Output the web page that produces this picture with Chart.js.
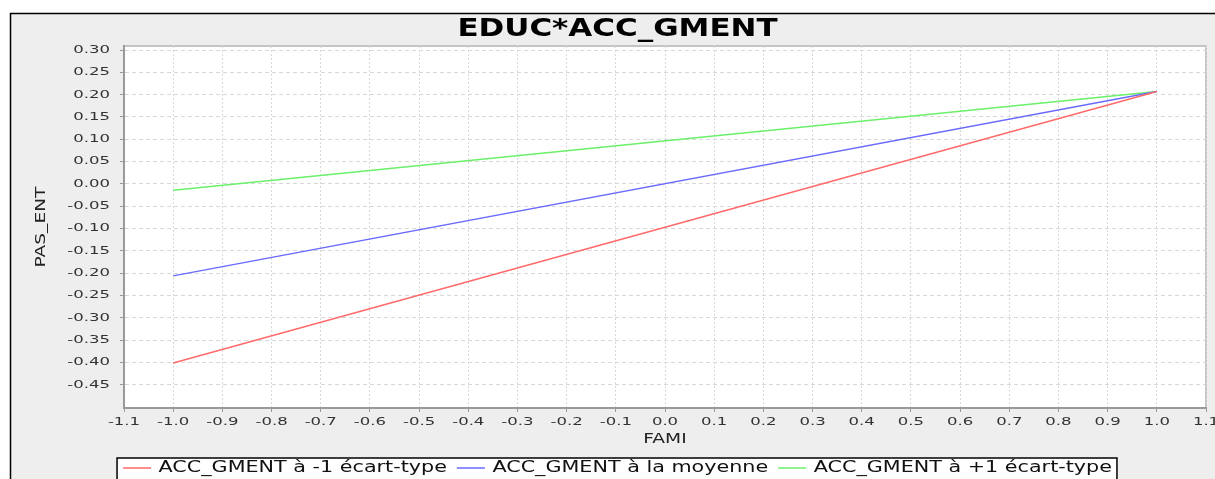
<!DOCTYPE html>
<html>
<head>
<meta charset="utf-8">
<script src="https://cdn.jsdelivr.net/npm/chart.js@4"></script>
<style>
  html, body { margin: 0; padding: 0; background: #fff; }
  #wrap { width: 1215px; height: 479px; }
</style>
</head>
<body>
<div id="wrap"><canvas id="chart" width="1215" height="479"></canvas></div>
<script>
// valeurs
const fami = [-1.0, 1.0];
const accMoins = [-0.401, 0.207];
const accMoyenne = [-0.206, 0.207];
const accPlus = [-0.014, 0.207];
const seriesLabels = ['ACC_GMENT à -1 écart-type', 'ACC_GMENT à la moyenne', 'ACC_GMENT à +1 écart-type'];
const xTicks = [-1.1, -1.0, -0.9, -0.8, -0.7, -0.6, -0.5, -0.4, -0.3, -0.2, -0.1, 0.0,
                0.1, 0.2, 0.3, 0.4, 0.5, 0.6, 0.7, 0.8, 0.9, 1.0, 1.1];
const yTicks = [-0.45, -0.40, -0.35, -0.30, -0.25, -0.20, -0.15, -0.10, -0.05, 0.00,
                0.05, 0.10, 0.15, 0.20, 0.25, 0.30];

const canvas = document.getElementById('chart');
const ctx = canvas.getContext('2d');

// le texte d'origine est étiré horizontalement : facteur selon la taille de police
const stretch = { 24: 1.29, 15: 1.38, 14: 1.33, 11: 1.5 };
function stretchFor(font) {
    const m = /(\d+(?:\.\d+)?)px/.exec(font);
    return (m && stretch[Math.round(+m[1])]) || 1;
}
const origFill = ctx.fillText.bind(ctx);
const origMeasure = ctx.measureText.bind(ctx);
ctx.fillText = function (t, x, y) {
    const sx = stretchFor(ctx.font);
    ctx.save();
    ctx.translate(x, y);
    ctx.scale(sx, 1);
    origFill(t, 0, 0);
    ctx.restore();
};
ctx.measureText = function (t) {
    const r = origMeasure(t);
    const sx = stretchFor(ctx.font);
    return {
        width: r.width * sx,
        actualBoundingBoxAscent: r.actualBoundingBoxAscent,
        actualBoundingBoxDescent: r.actualBoundingBoxDescent,
        actualBoundingBoxLeft: r.actualBoundingBoxLeft * sx,
        actualBoundingBoxRight: r.actualBoundingBoxRight * sx
    };
};

Chart.defaults.font.family = 'DejaVu Sans';

const toPoints = ys => fami.map((x, i) => ({ x: x, y: ys[i] }));

// fond, cadre et boîte de légende
const framePlugin = {
    id: 'frame',
    beforeDraw(chart) {
        const c = chart.ctx;
        const a = chart.chartArea;
        c.save();
        c.fillStyle = '#ffffff';
        c.fillRect(0, 0, chart.width, chart.height);
        c.fillStyle = '#eeeeee';
        c.fillRect(10, 13, chart.width, chart.height);
        c.strokeStyle = '#000';
        c.lineWidth = 1.5;
        c.strokeRect(10.5, 13.5, chart.width + 10, chart.height + 10);
        c.fillStyle = '#fff';
        c.fillRect(a.left, a.top, a.right - a.left, a.bottom - a.top);
        c.strokeStyle = '#c4c4c4';
        c.lineWidth = 2;
        c.strokeRect(a.left, a.top, a.right - a.left, a.bottom - a.top);
        const boxes = chart.legend.legendHitBoxes;
        if (boxes.length) {
            const l = Math.min(...boxes.map(b => b.left)) - 6;
            const r = Math.max(...boxes.map(b => b.left + b.width)) + 5;
            const t = boxes[0].top + boxes[0].height / 2 - 10;
            c.fillStyle = '#fff';
            c.fillRect(l, t, r - l, 40);
            c.strokeStyle = '#000';
            c.lineWidth = 1.5;
            c.strokeRect(l, t, r - l, 40);
        }
        c.restore();
    }
};

new Chart(ctx, {
    type: 'line',
    data: {
        datasets: [{
            label: seriesLabels[0],
            data: toPoints(accMoins),
            borderColor: '#ff6a6a',
            borderWidth: 1.5,
            pointRadius: 0
        }, {
            label: seriesLabels[1],
            data: toPoints(accMoyenne),
            borderColor: '#6a6aff',
            borderWidth: 1.5,
            pointRadius: 0
        }, {
            label: seriesLabels[2],
            data: toPoints(accPlus),
            borderColor: '#6af06a',
            borderWidth: 1.5,
            pointRadius: 0
        }]
    },
    options: {
        responsive: false,
        animation: false,
        devicePixelRatio: 1,
        layout: { padding: { top: 0, left: 20, right: 0, bottom: -6.5 } },
        plugins: {
            title: {
                display: true,
                text: 'EDUC*ACC_GMENT',
                color: '#000',
                font: { size: 24, weight: 'bold', lineHeight: 1.2 },
                padding: { top: 15.6, bottom: 1.6 }
            },
            legend: {
                position: 'bottom',
                align: 'center',
                labels: {
                    usePointStyle: true,
                    pointStyle: 'line',
                    pointStyleWidth: 28,
                    color: '#111',
                    font: { size: 15 },
                    padding: 10
                }
            },
            tooltip: { enabled: false }
        },
        scales: {
            x: {
                type: 'linear',
                min: -1.1,
                max: 1.1,
                afterBuildTicks: s => { s.ticks = xTicks.map(v => ({ value: v })); },
                afterFit: s => { s.height = 42.5; s.paddingLeft = 0; s.paddingRight = 9; },
                ticks: {
                    callback: v => v.toFixed(1),
                    autoSkip: false,
                    maxRotation: 0,
                    color: '#333',
                    font: { size: 11 },
                    padding: 4
                },
                grid: { color: '#d8d8d8', tickLength: 4, tickColor: '#999', tickBorderDash: [] },
                border: { display: true, color: '#999', width: 2, dash: [2, 2] },
                title: {
                    display: true,
                    text: 'FAMI',
                    color: '#222',
                    font: { size: 14 },
                    padding: { top: 0, bottom: 3.1 }
                }
            },
            y: {
                min: -0.502,
                max: 0.309,
                afterBuildTicks: s => { s.ticks = yTicks.map(v => ({ value: v })); },
                afterFit: s => { s.width = 104; },
                ticks: {
                    callback: v => v.toFixed(2),
                    autoSkip: false,
                    color: '#333',
                    font: { size: 11 },
                    padding: 10
                },
                grid: { color: '#d8d8d8', tickLength: 4, tickColor: '#999', tickBorderDash: [] },
                border: { display: true, color: '#999', width: 2, dash: [4, 3] },
                title: {
                    display: true,
                    text: 'PAS_ENT',
                    color: '#222',
                    font: { size: 14 },
                    padding: { top: 12.6, bottom: 0 }
                }
            }
        }
    },
    plugins: [framePlugin]
});
</script>
</body>
</html>
